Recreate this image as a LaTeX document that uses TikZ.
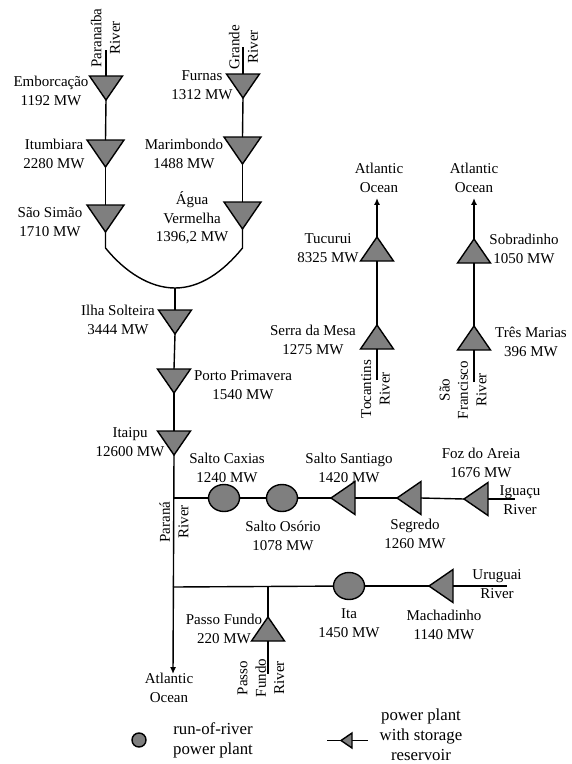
\documentclass[tikz,border=0pt]{standalone}
\usepackage{fontspec}
\setmainfont{Liberation Serif}
\usetikzlibrary{arrows.meta,shapes.geometric}
\definecolor{plant}{HTML}{7F7F7F}
\tikzset{
  river/.style={black,line width=1.4pt},
  flow/.style={-{Latex[length=2.4mm,width=2.1mm]},black,line width=1.4pt},
  dam/.style={isosceles triangle,isosceles triangle stretches,fill=plant,draw=black,line width=1.4pt,inner sep=0pt,outer sep=0pt,minimum width=33pt,minimum height=24pt,anchor=apex},
  damdown/.style={dam,shape border rotate=-90},
  damup/.style={dam,shape border rotate=90},
  damleft/.style={dam,shape border rotate=180},
  bigdam/.style={minimum width=37pt,minimum height=27pt},
  runriver/.style={ellipse,fill=plant,draw=black,line width=1.4pt,inner sep=0pt,outer sep=0pt,minimum width=31pt,minimum height=27pt},
  lbl/.style={font=\fontsize{15}{18.4}\selectfont,align=center,inner sep=0pt},
  lbllegend/.style={font=\fontsize{16.8}{20}\selectfont,align=center,inner sep=0pt},
}
\begin{document}
\begin{tikzpicture}[x=1pt,y=-1pt]
  \useasboundingbox (0,0) rectangle (572,764);
  % plants, western cascade
  \node[damdown] (emborcacao) at (106,100) {};
  \node[damdown,bigdam] (itumbiara) at (105.5,167) {};
  \node[damdown,bigdam] (saosimao) at (105.5,232) {};
  \node[damdown] (furnas) at (243,98) {};
  \node[damdown,bigdam] (marimbondo) at (242.5,164) {};
  \node[damdown,bigdam] (agua) at (242.5,229) {};
  \node[damdown] (ilha) at (175,334) {};
  \node[damdown] (porto) at (174,393) {};
  \node[damdown] (itaipu) at (174,455) {};
  % Iguacu and Uruguai
  \node[runriver] (caxias) at (224,498) {};
  \node[runriver] (osorio) at (282,498) {};
  \node[damleft] (santiago) at (331,498) {};
  \node[damleft] (segredo) at (397,498) {};
  \node[damleft] (foz) at (464,499) {};
  \node[runriver] (ita) at (349,586) {};
  \node[damleft] (machadinho) at (429,586) {};
  \node[damup] (passo) at (268,617) {};
  % eastern rivers
  \node[damup] (tucurui) at (377,237) {};
  \node[damup] (serra) at (377,325) {};
  \node[damup] (sobradinho) at (474,239) {};
  \node[damup] (marias) at (474,326) {};
  % free ends
  \coordinate (paranaibaend) at (106,50);
  \coordinate (grandeend) at (243,47);
  \coordinate (leftbend) at (105.5,248);
  \coordinate (rightbend) at (242.5,248);
  \coordinate (confluence) at (175,288);
  \coordinate (iguacujoin) at (173,498);
  \coordinate (iguacuend) at (515,499);
  \coordinate (uruguaijoin) at (173,587);
  \coordinate (uruguaiend) at (507,586);
  \coordinate (passojoin) at (268,586);
  \coordinate (passoend) at (268,674);
  \coordinate (paranaend) at (173,674);
  \coordinate (tocantinsend) at (377,380);
  \coordinate (tocantinsmouth) at (377,198);
  \coordinate (franciscoend) at (474,382);
  \coordinate (franciscomouth) at (474,198);
  % connectors
  \draw[river] (paranaibaend) -- (emborcacao.lower side);
  \draw[river] (emborcacao.apex) -- (itumbiara.lower side);
  \draw[river] (itumbiara.apex) -- (saosimao.lower side);
  \draw[river] (grandeend) -- (furnas.lower side);
  \draw[river] (furnas.apex) -- (marimbondo.lower side);
  \draw[river] (marimbondo.apex) -- (agua.lower side);
  \draw[river] (saosimao.apex) -- (leftbend) .. controls (125,272) and (150,288) .. (confluence) .. controls (200,288) and (223,272) .. (rightbend) -- (agua.apex);
  \draw[river] (confluence) -- (ilha.lower side);
  \draw[river] (ilha.apex) -- (porto.lower side);
  \draw[river] (porto.apex) -- (itaipu.lower side);
  \draw[flow] (itaipu.apex) -- (paranaend);
  \draw[river] (iguacujoin) -- (caxias);
  \draw[river] (caxias) -- (osorio);
  \draw[river] (osorio) -- (santiago.apex);
  \draw[river] (santiago.lower side) -- (segredo.apex);
  \draw[river] (segredo.lower side) -- (foz.apex);
  \draw[river] (foz.lower side) -- (iguacuend);
  \draw[river] (uruguaijoin) -- (ita);
  \draw[river] (ita) -- (machadinho.apex);
  \draw[river] (machadinho.lower side) -- (uruguaiend);
  \draw[river] (passojoin) -- (passo.apex);
  \draw[river] (passo.lower side) -- (passoend);
  \draw[flow] (tucurui.apex) -- (tocantinsmouth);
  \draw[river] (serra.apex) -- (tucurui.lower side);
  \draw[river] (tocantinsend) -- (serra.lower side);
  \draw[flow] (sobradinho.apex) -- (franciscomouth);
  \draw[river] (marias.apex) -- (sobradinho.lower side);
  \draw[river] (franciscoend) -- (marias.lower side);
  % labels
  \node[lbl] (lemborcacao) at (51,91) {Emborcação\\1192 MW};
  \node[lbl] (litumbiara) at (54,154) {Itumbiara\\2280 MW};
  \node[lbl] (lsaosimao) at (50,222) {São Simão\\1710 MW};
  \node[lbl] (lfurnas) at (202,85) {Furnas\\1312 MW};
  \node[lbl] (lmarimbondo) at (184,154) {Marimbondo\\1488 MW};
  \node[lbl] (lagua) at (192,218) {Água\\Vermelha\\1396,2 MW};
  \node[lbl] (lilha) at (118,320) {Ilha Solteira\\3444 MW};
  \node[lbl] (lporto) at (243,385) {Porto Primavera\\1540 MW};
  \node[lbl] (litaipu) at (130,442) {Itaipu\\12600 MW};
  \node[lbl] (lcaxias) at (227,468) {Salto Caxias\\1240 MW};
  \node[lbl] (losorio) at (283,536) {Salto Osório\\1078 MW};
  \node[lbl] (lsantiago) at (349,468) {Salto Santiago\\1420 MW};
  \node[lbl] (lsegredo) at (415,534) {Segredo\\1260 MW};
  \node[lbl] (lfoz) at (481,463) {Foz do Areia\\1676 MW};
  \node[lbl] (liguacu) at (520,500) {Iguaçu\\River};
  \node[lbl] (luruguai) at (497,584) {Uruguai\\River};
  \node[lbl] (lita) at (349,623) {Ita\\1450 MW};
  \node[lbl] (lmachadinho) at (444,625) {Machadinho\\1140 MW};
  \node[lbl] (lpasso) at (224,629) {Passo Fundo\\220 MW};
  \node[lbl] (lparanaocean) at (169,688) {Atlantic\\Ocean};
  \node[lbl] (ltucurui) at (328,248) {Tucurui\\8325 MW};
  \node[lbl] (lserra) at (313,340) {Serra da Mesa\\1275 MW};
  \node[lbl] (ltocantinsocean) at (379,178) {Atlantic\\Ocean};
  \node[lbl] (lfranciscoocean) at (474,178) {Atlantic\\Ocean};
  \node[lbl] (lsobradinho) at (524,249) {Sobradinho\\1050 MW};
  \node[lbl] (lmarias) at (531,342) {Três Marias\\396 MW};
  % river names set upright
  \node[lbl,rotate=90] (lparanaiba) at (105.5,38) {Paranaíba\\River};
  \node[lbl,rotate=90] (lgrande) at (243.5,47) {Grande\\River};
  \node[lbl,rotate=90] (lparana) at (174,522) {Paraná\\River};
  \node[lbl,rotate=90] (lpassoriver) at (261,678) {Passo\\Fundo\\River};
  \node[lbl,rotate=90] (ltocantins) at (375.5,389) {Tocantins\\River};
  \node[lbl,rotate=90] (lfrancisco) at (463,390) {São\\Francisco\\River};
  % legend
  \node[circle,fill=plant,draw=black,line width=1.4pt,inner sep=0pt,minimum size=14pt] (legendrun) at (139,740) {};
  \node[lbllegend] (lrun) at (213,740.5) {run-of-river\\power plant};
  \coordinate (legendleft) at (327,740.5);
  \coordinate (legendright) at (368,740.5);
  \draw[river] (legendleft) -- (legendright);
  \node[damleft,minimum width=15pt,minimum height=11pt] (legenddam) at (341,740.5) {};
  \node[lbllegend] (lstorage) at (421,734.5) {power plant\\with storage\\reservoir};
\end{tikzpicture}
\end{document}
